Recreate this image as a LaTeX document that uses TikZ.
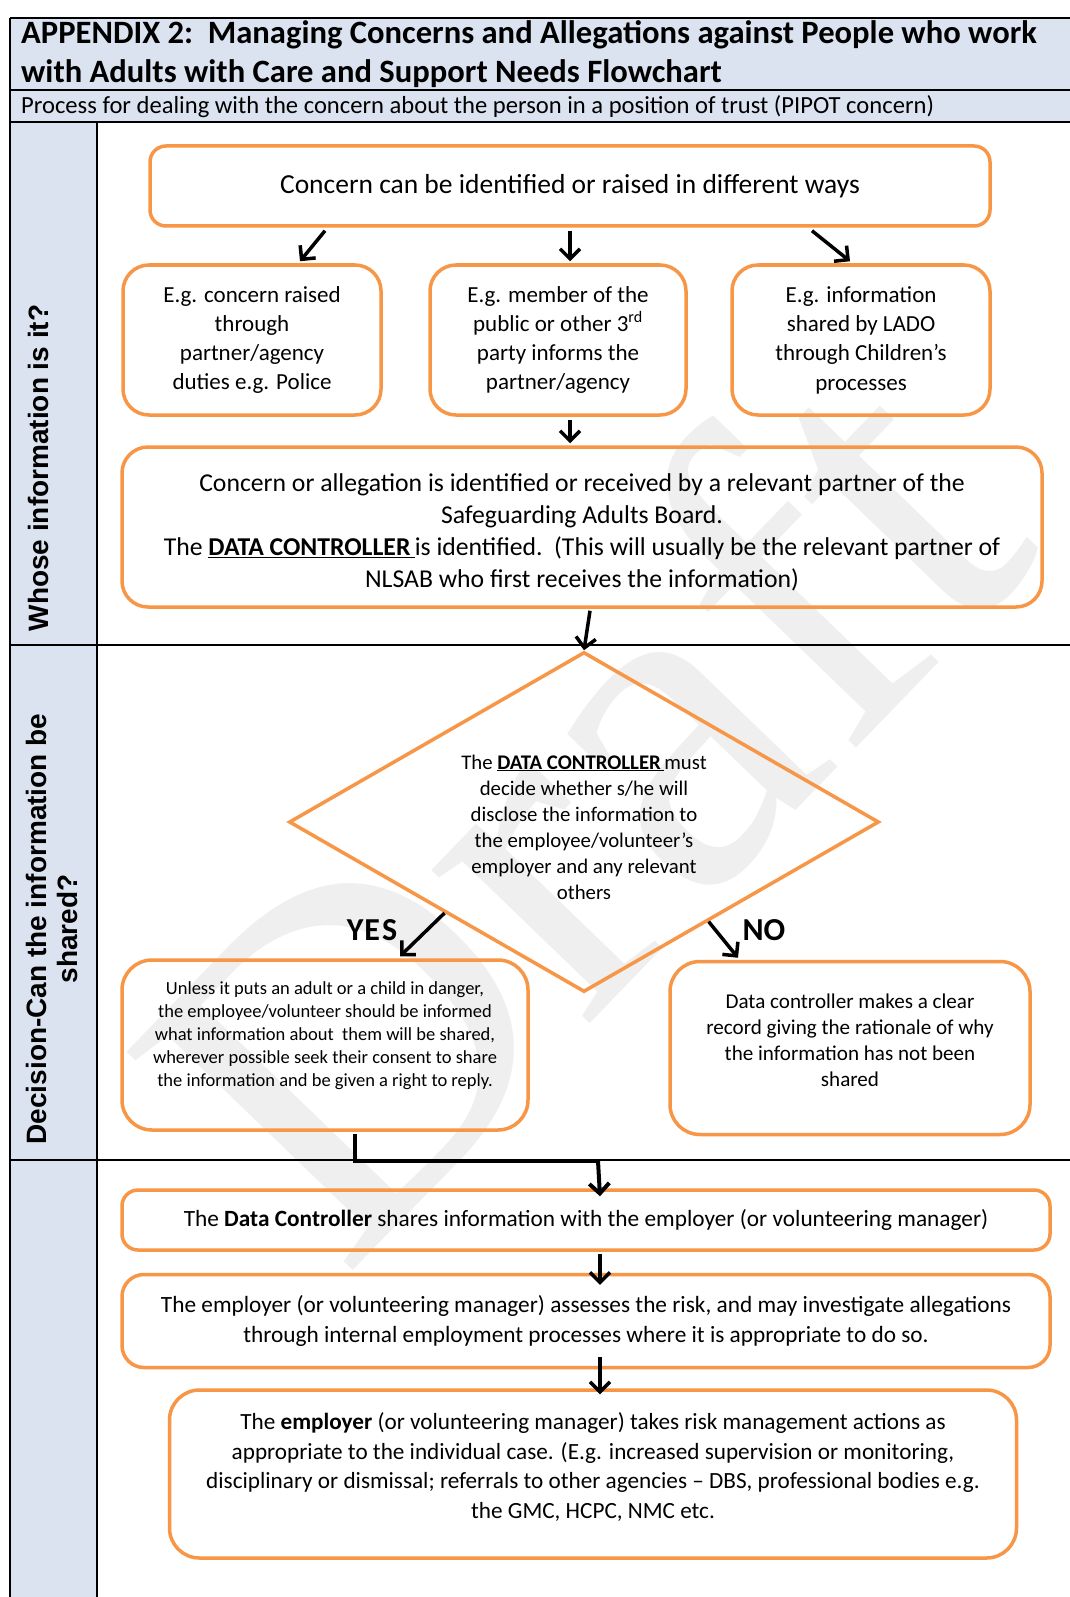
\documentclass[tikz,border=0pt]{standalone}
\usepackage{fontspec}
\setmainfont{Carlito}
\newfontfamily\arialf{Liberation Sans}
\newfontfamily\wmfont{Liberation Serif}
\usetikzlibrary{shapes.geometric,arrows.meta,calc}
\definecolor{hdr}{HTML}{DCE3F0}
\definecolor{org}{HTML}{F79646}
\definecolor{wm}{HTML}{EFEFEF}
\newcommand{\fs}[2]{\fontsize{#1}{#2}\selectfont}
\newcommand{\DC}{\underline{\textbf{DATA CONTROLLER}\,}}
\begin{document}
\begin{tikzpicture}[x=1pt,y=-1pt,
  box/.style={draw=org,line width=3.5pt,rounded corners=#1,align=center,inner sep=0pt},
  box/.default=22pt,
  frame/.style={draw=black,line width=1.6pt},
  arr/.style={draw=black,line width=3.5pt,-{Straight Barb[length=10pt,width=20pt]}},
  lbl/.style={font=\arialf\bfseries\fs{28}{31},align=center,rotate=90}
]
\useasboundingbox (0,0) rectangle (1070,1597);
\clip (0,0) rectangle (1070,1597);
\fill[white] (0,0) rectangle (1070,1597);
% frame backgrounds
\fill[hdr] (10,18) rectangle (1080,122);
\fill[hdr] (10,122) rectangle (97,1600);
% watermark
\node[rotate=46,text=wm,font=\wmfont\fs{480}{480}] (wmk) at (575,800) {Draft};
% frame lines
\draw[frame,line width=2.2pt] (10,18) -- (1080,18);
\draw[frame] (10,90) -- (1080,90);
\draw[frame] (10,122) -- (1080,122);
\draw[frame] (10,645) -- (1080,645);
\draw[frame] (10,1160) -- (1080,1160);
\draw[frame] (10,18) -- (10,1600);
\draw[frame] (97,122) -- (97,1600);
% title texts
\node[anchor=west,align=left,inner sep=0pt,font=\bfseries\fs{32.6}{39}] (title) at (21,54)
  {APPENDIX 2:\ \ Managing Concerns and Allegations against People who work\\with Adults with Care and Support Needs Flowchart};
\node[anchor=west,inner sep=0pt,font=\fs{24.6}{27}] (sub) at (21,107)
  {Process for dealing with the concern about the person in a position of trust (PIPOT concern)};
% side labels
\node[lbl] (lab1) at (38,468) {Whose information is it?};
\node[lbl] (lab2) at (52,929) {Decision-Can the information be\\shared?};
% boxes
\node[box=16pt,minimum width=840pt,minimum height=80pt,font=\fs{27.5}{33}] (top) at (570,186)
  {Concern can be identified or raised in different ways};
\node[box=26pt,minimum width=258pt,minimum height=150pt,font=\fs{23}{29.3}] (b1) at (252,340)
  {E.g. concern raised\\through\\partner/agency\\duties e.g. Police};
\node[box=26pt,minimum width=256pt,minimum height=150pt,font=\fs{23}{29.3}] (b2) at (558,340)
  {E.g. member of the\\public or other 3\textsuperscript{rd}\\party informs the\\partner/agency};
\node[box=26pt,minimum width=258pt,minimum height=150pt,font=\fs{23}{29.3}] (b3) at (861,340)
  {E.g. information\\shared by LADO\\through Children’s\\processes};
\node[box=26pt,minimum width=920pt,minimum height=160pt] (big) at (582,527) {};
\node[align=center,inner sep=0pt,font=\fs{25.7}{32}] (bigtext) at (582,532)
  {Concern or allegation is identified or received by a relevant partner of the\\Safeguarding Adults Board.\\The \DC is identified.\ \ (This will usually be the relevant partner of\\NLSAB who first receives the information)};
% diamond
\node[diamond,draw=org,line width=3.5pt,minimum width=590pt,minimum height=340pt,inner sep=0pt] (dia) at (584,822) {};
\node[align=center,inner sep=0pt,font=\fs{20.8}{26}] (dtext) at (584,827)
  {The \DC must\\decide whether s/he will\\disclose the information to\\the employee/volunteer’s\\employer and any relevant\\others};
% yes / no boxes
\node[box=30pt,minimum width=406pt,minimum height=170pt] (yes) at (325,1045) {};
\node[align=center,inner sep=0pt,font=\fs{18.5}{23}] (ytext) at (325,1036)
  {Unless it puts an adult or a child in danger,\\the employee/volunteer should be informed\\what information about\ \ them will be shared,\\wherever possible seek their consent to share\\the information and be given a right to reply.};
\node[box=30pt,minimum width=360pt,minimum height=173pt] (no) at (850,1048) {};
\node[align=center,inner sep=0pt,font=\fs{21.1}{26}] (ntext) at (850,1040)
  {Data controller makes a clear\\record giving the rationale of why\\the information has not been\\shared};
\node[font=\bfseries\fs{32}{34},inner sep=0pt] (ylab) at (372,930) {Y\kern1pt E\kern2pt S};
\node[font=\bfseries\fs{32}{34},inner sep=0pt] (nlab) at (764,930) {NO};
% bottom boxes
\node[box=16pt,minimum width=928pt,minimum height=60pt,font=\fs{23.3}{30}] (s1) at (586,1220)
  {The \textbf{Data Controller} shares information with the employer (or volunteering manager)};
\node[box=22pt,minimum width=928pt,minimum height=93pt,font=\fs{23.3}{30}] (s2) at (586,1321)
  {The employer (or volunteering manager) assesses the risk, and may investigate allegations\\through internal employment processes where it is appropriate to do so.};
\node[box=30pt,minimum width=847pt,minimum height=168pt] (s3) at (593,1474) {};
\node[align=center,inner sep=0pt,font=\fs{23.2}{29.5}] (s3text) at (593,1467)
  {The \textbf{employer} (or volunteering manager) takes risk management actions as\\appropriate to the individual case. (E.g. increased supervision or monitoring,\\disciplinary or dismissal; referrals to other agencies – DBS, professional bodies e.g.\\the GMC, HCPC, NMC etc.};
% connectors
\draw[arr] ([xshift=-245pt,yshift=-3pt]top.south) -- ([xshift=48pt,yshift=2pt]b1.north);
\draw[arr] ([yshift=-3pt]top.south) -- ([xshift=12pt,yshift=2pt]b2.north);
\draw[arr] ([xshift=242pt,yshift=-3pt]top.south) -- ([xshift=-11pt,yshift=2pt]b3.north);
\draw[arr] ([xshift=12pt,yshift=-3pt]b2.south) -- ([xshift=-12pt,yshift=2pt]big.north);
\draw[arr] ([xshift=8pt,yshift=-2pt]big.south) -- (dia.north);
\draw[arr] ($(dia.south)!0.47!(dia.west)$) -- ([xshift=75pt,yshift=2pt]yes.north);
\draw[arr] ($(dia.south)!0.42!(dia.east)$) -- ([xshift=-112pt,yshift=2pt]no.north);
\coordinate (j) at (600,1161);
\draw[draw=black,line width=4pt] ([xshift=30pt,yshift=-2pt]yes.south) |- (j);
\draw[arr,line width=4pt] ([xshift=-2pt]j) -- ([yshift=-8pt]s1.north -| j);
\draw[arr] ([yshift=-2pt]s1.south -| j) -- ([yshift=-12pt]s2.north -| j);
\draw[arr] ([yshift=12pt]s2.south -| j) -- ([yshift=-6pt]s3.north -| j);
\end{tikzpicture}
\end{document}
